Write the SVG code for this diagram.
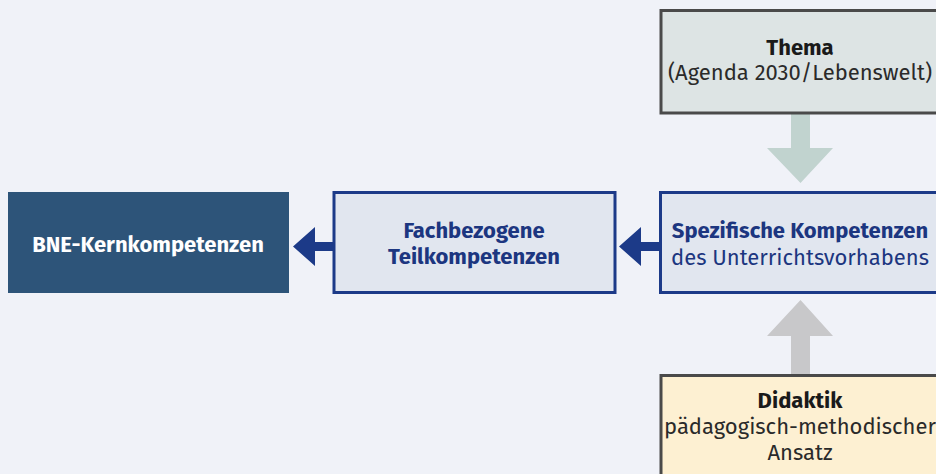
<svg xmlns="http://www.w3.org/2000/svg" width="936" height="474" viewBox="0 0 936 474">
<style>
text{font-family:"Fira Sans","Noto Sans","Open Sans",sans-serif;font-size:22px;text-anchor:middle}
.b{font-weight:bold}
.navy{fill:#1c3680}
.dark{fill:#1a1a1a}
.gray{fill:#2a2a2a}
.blue{fill:#e1e6ef;stroke:#1c3a88;stroke-width:3}
.neutral{stroke:#4a4a4a;stroke-width:3}
</style>
<rect width="936" height="474" fill="#f0f2f8"/>
<g id="connectors">
<polygon points="791,113 810,113 810,148 833,148 800.5,183 767,148 791,148" fill="#c1d3cf"/>
<polygon points="791,375 810,375 810,336 833,336 800.5,300 767,336 791,336" fill="#c8c8ca"/>
<polygon points="334,242 315,242 315,227 293,246.5 315,266 315,251 334,251" fill="#1c3a88"/>
<polygon points="660,242 641,242 641,227 619,246.5 641,266 641,251 660,251" fill="#1c3a88"/>
</g>
<g id="thema">
<rect x="661" y="10.5" width="285" height="102.5" fill="#dde4e4" class="neutral"/>
<text x="800" y="55" class="b dark">Thema</text>
<text x="800" y="80" class="gray">(Agenda 2030/Lebenswelt)</text>
</g>
<g id="spezifisch">
<rect x="660.5" y="192.5" width="285" height="100" class="blue"/>
<text x="800" y="238" class="b navy">Spezifische Kompetenzen</text>
<text x="800" y="265" class="navy">des Unterrichtsvorhabens</text>
</g>
<g id="fachbezogen">
<rect x="334" y="192.5" width="281" height="100" class="blue"/>
<text x="474" y="238" class="b navy">Fachbezogene</text>
<text x="474" y="264" class="b navy">Teilkompetenzen</text>
</g>
<g id="bne">
<rect x="8" y="192" width="281" height="101" fill="#2d5479"/>
<text x="148" y="252" class="b" fill="#ffffff">BNE-Kernkompetenzen</text>
</g>
<g id="didaktik">
<rect x="661" y="375.5" width="285" height="110" fill="#fdf0d2" class="neutral"/>
<text x="800" y="408" class="b dark">Didaktik</text>
<text x="800" y="434" class="gray">pädagogisch-methodischer</text>
<text x="800" y="460" class="gray">Ansatz</text>
</g>
</svg>
